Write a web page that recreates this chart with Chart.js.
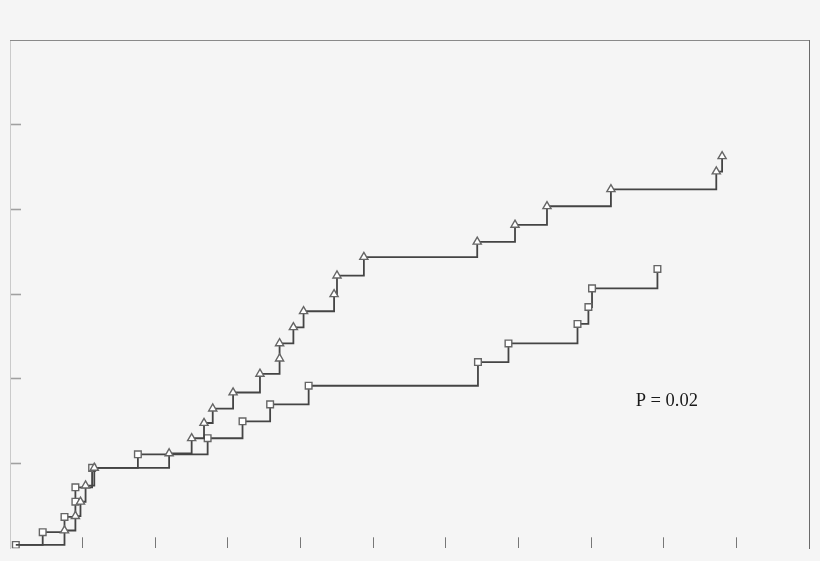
<!DOCTYPE html>
<html>
<head>
<meta charset="utf-8">
<script src="https://cdn.jsdelivr.net/npm/chart.js@4/dist/chart.umd.min.js"></script>
<style>
  html, body { margin: 0; padding: 0; background: #f5f5f5; }
  #caixa { width: 820px; height: 561px; }
</style>
</head>
<body>
<div id="caixa"><canvas id="grafico"></canvas></div>
<script>
// valores (eixo x 0-11, eixo y 0-6)
const quadradoX = [0.08, 0.45, 0.75, 0.90, 0.90, 1.13, 1.76, 2.72, 3.20, 3.58, 4.11, 6.44, 6.86, 7.81, 7.96, 8.01, 8.91];
const quadradoY = [0.04, 0.19, 0.37, 0.55, 0.72, 0.95, 1.11, 1.30, 1.50, 1.70, 1.92, 2.20, 2.42, 2.65, 2.85, 3.07, 3.30];

const trianguloX = [0.08, 0.75, 0.90, 0.97, 1.04, 1.16, 2.19, 2.50, 2.67, 2.79, 3.07, 3.44, 3.71, 3.71, 3.90, 4.04, 4.46, 4.50, 4.87, 6.43, 6.95, 7.39, 8.27, 9.72, 9.80];
const trianguloY = [0.04, 0.21, 0.38, 0.55, 0.74, 0.95, 1.12, 1.30, 1.48, 1.65, 1.84, 2.06, 2.24, 2.42, 2.61, 2.80, 3.00, 3.22, 3.44, 3.62, 3.82, 4.04, 4.24, 4.45, 4.63];

const xTicks = [1, 2, 3, 4, 5, 6, 7, 8, 9, 10];
const yTicks = [1, 2, 3, 4, 5];

const textoP = 'P = 0.02';
const textoPX = 8.61;
const textoPY = 1.68;

function pontos(xs, ys) {
    return xs.map((x, i) => ({ x: x, y: ys[i] }));
}

// fundo cinza claro
const fundo = {
    id: 'fundo',
    beforeDraw(chart) {
        const ctx = chart.ctx;
        ctx.save();
        ctx.fillStyle = '#f5f5f5';
        ctx.fillRect(0, 0, chart.width, chart.height);
        ctx.restore();
    }
};

// texto do valor P
const anotacao = {
    id: 'anotacao',
    afterDatasetsDraw(chart) {
        const ctx = chart.ctx;
        ctx.save();
        ctx.font = '18.5px "Liberation Serif", serif';
        ctx.fillStyle = '#1a1a1a';
        ctx.textBaseline = 'alphabetic';
        ctx.fillText(textoP, chart.scales.x.getPixelForValue(textoPX), chart.scales.y.getPixelForValue(textoPY));
        ctx.restore();
    }
};

const zeroAltura = (eixo) => { eixo.height = 0; };
const zeroLargura = (eixo) => { eixo.width = 0; };

new Chart(document.getElementById('grafico').getContext('2d'), {
    type: 'line',
    data: {
        datasets: [
            {
                label: 'triangulo',
                data: pontos(trianguloX, trianguloY),
                stepped: 'before',
                borderColor: '#444',
                borderWidth: 1.8,
                pointStyle: 'triangle',
                pointRadius: (c) => c.dataIndex === 0 ? 0 : 4.7,
                pointBackgroundColor: '#fff',
                pointBorderColor: '#666',
                pointBorderWidth: 1.4,
                fill: false
            },
            {
                label: 'quadrado',
                data: pontos(quadradoX, quadradoY),
                stepped: 'before',
                borderColor: '#444',
                borderWidth: 1.8,
                pointStyle: 'rect',
                pointRadius: 4.7,
                pointBackgroundColor: '#fff',
                pointBorderColor: '#666',
                pointBorderWidth: 1.4,
                fill: false
            }
        ]
    },
    options: {
        responsive: true,
        maintainAspectRatio: false,
        animation: false,
        layout: { padding: { left: 10, right: 10.7, top: 40.3, bottom: 12.7 } },
        plugins: { legend: { display: false }, tooltip: { enabled: false } },
        scales: {
            x: {
                type: 'linear', position: 'bottom', min: 0, max: 11,
                ticks: { display: false, stepSize: 1 },
                grid: {
                    drawOnChartArea: false, tickLength: -11, tickWidth: 1,
                    tickColor: (c) => xTicks.includes(c.tick.value) ? '#777' : 'transparent'
                },
                border: { display: false },
                afterFit: zeroAltura
            },
            y: {
                type: 'linear', position: 'left', min: 0, max: 6,
                ticks: { display: false, stepSize: 1 },
                grid: {
                    drawOnChartArea: false, tickLength: -11, tickWidth: 1.6,
                    tickColor: (c) => yTicks.includes(c.tick.value) ? '#a0a0a0' : 'transparent'
                },
                border: { display: true, color: '#cacaca', width: 1 },
                afterFit: zeroLargura
            },
            xTopo: {
                type: 'linear', position: 'top', min: 0, max: 11,
                ticks: { display: false },
                grid: { display: false },
                border: { display: true, color: '#8a8a8a', width: 1 },
                afterFit: zeroAltura
            },
            yDireita: {
                type: 'linear', position: 'right', min: 0, max: 6,
                ticks: { display: false },
                grid: { display: false },
                border: { display: true, color: '#6a6a6a', width: 1 },
                afterFit: zeroLargura
            }
        }
    },
    plugins: [fundo, anotacao]
});
</script>
</body>
</html>
